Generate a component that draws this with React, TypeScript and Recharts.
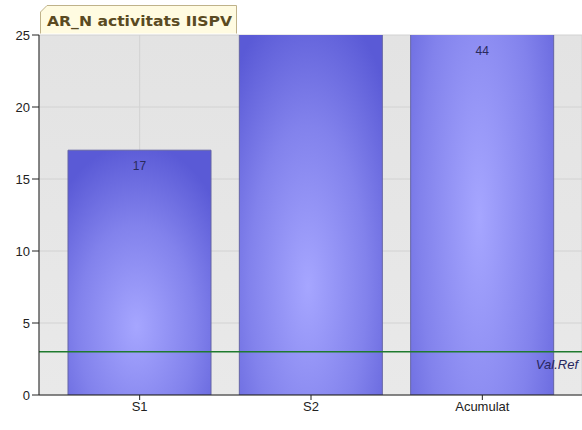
import { BarChart, Bar, XAxis, YAxis, CartesianGrid, ReferenceLine, LabelList } from 'recharts';

const categories = ['S1', 'S2', 'Acumulat'];
const values = [17, 27, 44];
const showValue = [true, false, true];
const yTicks = [0, 5, 10, 15, 20, 25];
const refValue = 3;
const refLabel = 'Val.Ref';
const title = 'AR_N activitats IISPV';

const data = categories.map((c, i) => ({ name: c, value: values[i], show: showValue[i] }));

const PLOT_TOP = 35;

function ValueLabel(props: any) {
  const { x, y, width, value, index } = props;
  if (!showValue[index]) return null;
  const top = Math.max(y, PLOT_TOP);
  return (
    <text x={x + width / 2} y={top + 20} textAnchor="middle" fontSize={12} fill="#2a2a5c" fontFamily="Liberation Sans, Arial, sans-serif">
      {value}
    </text>
  );
}

function RefLabel(props: any) {
  const { viewBox } = props;
  return (
    <text x={viewBox.x + viewBox.width - 4} y={viewBox.y + 17} textAnchor="end" fontSize={13} fontStyle="italic" fill="#26265e" fontFamily="Liberation Sans, Arial, sans-serif">
      {refLabel}
    </text>
  );
}

export default function App() {
  return (
    <div style={{ position: 'absolute', left: 0, top: 0, width: 582, height: 430, background: '#fff', overflow: 'hidden' }}>
      <BarChart width={582} height={430} data={data} margin={{ top: PLOT_TOP, right: 0, bottom: 0, left: 0 }}>
        <defs>
          <radialGradient id="barFill" cx="0.48" cy="0.72" r="0.75">
            <stop offset="0%" stopColor="#a6a6ff" />
            <stop offset="55%" stopColor="#8282ec" />
            <stop offset="100%" stopColor="#5a5ad6" />
          </radialGradient>
          <linearGradient id="plotBg" x1="0" y1="0" x2="0" y2="1">
            <stop offset="0%" stopColor="#e3e3e3" />
            <stop offset="100%" stopColor="#e9e9e9" />
          </linearGradient>
        </defs>
        <CartesianGrid stroke="#d2d2d2" fill="url(#plotBg)" />
        <XAxis
          dataKey="name"
          height={35}
          padding={{ left: 15, right: 14 }}
          axisLine={{ stroke: '#222' }}
          tickLine={{ stroke: '#222' }}
          tickSize={5}
          tick={{ fontSize: 13, fill: '#222', fontFamily: 'Liberation Sans, Arial, sans-serif' }}
        />
        <YAxis
          width={39}
          domain={[0, 25]}
          ticks={yTicks}
          allowDataOverflow
          axisLine={{ stroke: '#222' }}
          tickLine={{ stroke: '#222' }}
          tickSize={7}
          tick={{ fontSize: 13, fill: '#222', fontFamily: 'Liberation Sans, Arial, sans-serif' }}
        />
        <Bar dataKey="value" barSize={143} fill="url(#barFill)" stroke="#6464a4" strokeWidth={1} isAnimationActive={false}>
          <LabelList dataKey="value" content={<ValueLabel />} />
        </Bar>
        <ReferenceLine y={refValue} stroke="#1f7a2e" strokeWidth={1.5} label={<RefLabel />} />
      </BarChart>
      <svg width={240} height={36} style={{ position: 'absolute', left: 0, top: 0 }}>
        <path d="M40.5,33.5 L40.5,12 L47,5.5 L236.5,5.5 L236.5,33.5" fill="#fffbe1" stroke="#bfb28a" strokeWidth={1} />
        <text x={47} y={26} fontSize={14} fontWeight="bold" fill="#5a4a22" fontFamily="DejaVu Sans, Verdana, sans-serif" textLength={185} lengthAdjust="spacingAndGlyphs">
          {title}
        </text>
      </svg>
    </div>
  );
}
